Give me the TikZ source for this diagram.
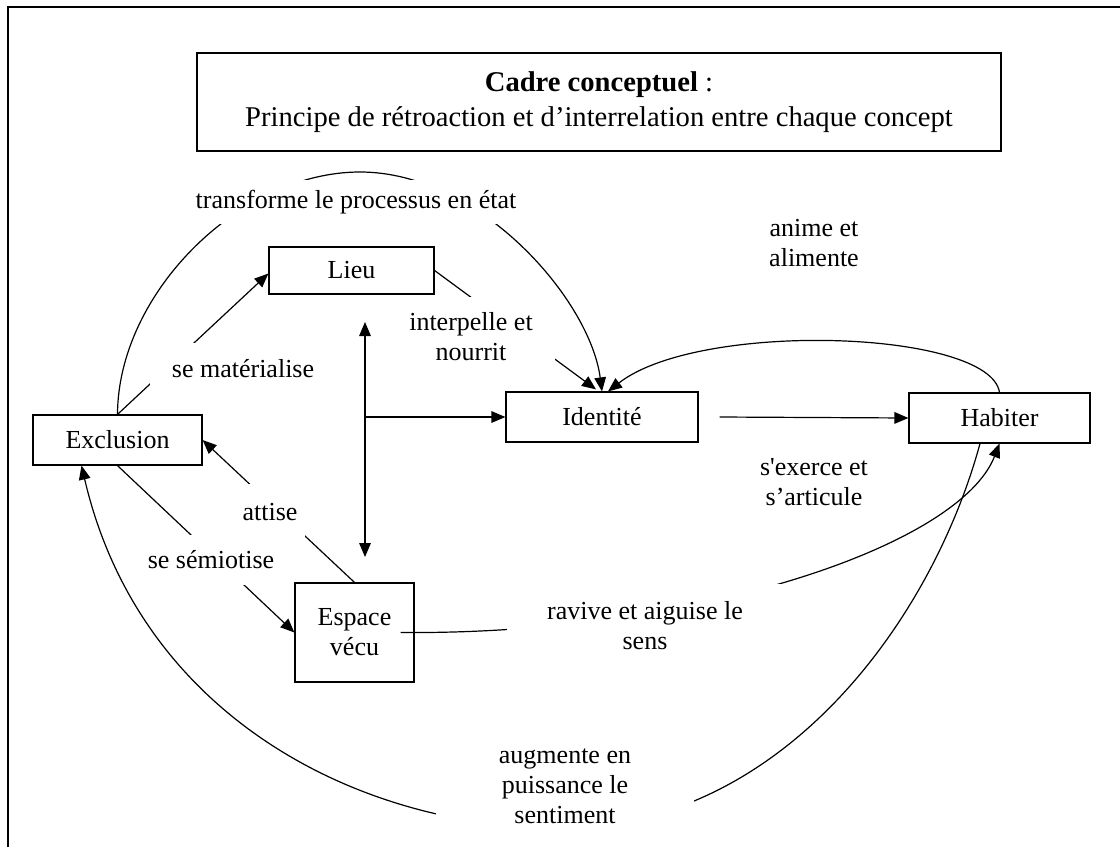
\documentclass[tikz,border=0pt]{standalone}
\usepackage{fontspec}
\setmainfont{Liberation Serif}
\newfontfamily\straightfont{Liberation Serif}[Ligatures=TeXOff]
\usetikzlibrary{arrows.meta,calc}
\newcommand\myfs{\fontsize{13}{15}\selectfont}
\newcommand\myfst{\fontsize{14.3}{17.5}\selectfont}
\tikzset{
  x=0.5pt, y=-0.5pt,
  box/.style={draw, line width=0.6pt, inner sep=0pt, align=center, font=\myfs},
  lbl/.style={fill=white, inner sep=0pt, align=center, font=\myfs},
  txt/.style={inner sep=0pt, align=center, font=\myfs},
  conn/.style={line width=0.6pt},
  arr/.style={conn, -{Triangle[length=7pt,width=5.8pt]}},
  darr/.style={conn, {Triangle[length=7pt,width=5.8pt]}-{Triangle[length=7pt,width=5.8pt]}}
}
\begin{document}
\begin{tikzpicture}
\useasboundingbox (0,0) rectangle (1120,847);
% outer frame (cropped)
\draw[line width=0.9pt] (8,847) -- (8,7) -- (1120,7);
% title
\node[box, font=\myfst, minimum width=402pt, minimum height=49pt] (title) at (599,102)
  {\textbf{Cadre conceptuel} :\\Principe de rétroaction et d’interrelation entre chaque concept};
% concept boxes
\node[box, minimum width=82.5pt, minimum height=23.5pt] (lieu) at (351.5,270.5) {Lieu};
\node[box, minimum width=84.5pt, minimum height=25pt] (excl) at (117.5,440) {Exclusion};
\node[box, minimum width=96pt, minimum height=25pt] (ident) at (602,417) {Identité};
\node[box, minimum width=90.5pt, minimum height=25pt] (habit) at (999.5,418) {Habiter};
\node[box, minimum width=59.5pt, minimum height=49.5pt] (esp) at (354.5,632.5) {Espace\\vécu};
% auxiliary coordinates for the double arrow
\coordinate (vt) at (365,322);
\coordinate (vb) at (365,557);
% connectors
\draw[arr] (excl.north) .. controls (118,293) and (240,172) .. (360,172)
  .. controls (480,172) and (590,300) .. (ident.north);
\draw[arr] (habit.north) .. controls (990,330) and (700,320) .. ($(ident.north)+(6,0)$);
\draw[arr] (lieu.east) -- ($(ident.north)+(-6,-2)$);
\draw[arr] (excl.north) -- ($(lieu.west)+(0,3)$);
\draw[arr] (esp.north) -- (excl.east);
\draw[arr] (excl.south) -- (esp.west);
\draw[darr] (vt) -- (vb);
\draw[arr] (vt |- ident.west) -- (ident.west);
\draw[arr] ($(ident.east)+(21,0)$) -- (habit.west);
\draw[arr] ($(esp.east)+(-14,0)$) .. controls (700,635) and (960,545) .. (habit.south);
\draw[arr] ($(habit.south)+(-19.5,0)$) .. controls (931,623) and (780,828) .. (560,828)
  .. controls (360,828) and (140,717) .. ($(excl.south)+(-36,0)$);
% labels
\node[lbl, minimum width=190pt, minimum height=22pt] (ltrans) at (356,202) {transforme le processus en état};
\node[txt] (lanime) at (814,243) {anime et\\alimente};
\node[lbl, minimum width=84pt, minimum height=40pt] (linterp) at (471,337) {interpelle et\\nourrit};
\node[lbl, minimum width=93pt, minimum height=26pt] (lmater) at (243,369) {se matérialise};
\node[txt] (lexerce) at (814,482) {s{\straightfont '}exerce et\\s’articule};
\node[lbl, minimum width=35pt, minimum height=28pt] (lattise) at (270,512) {attise};
\node[lbl, minimum width=70pt, minimum height=25pt] (lsemio) at (211,560) {se sémiotise};
\node[lbl, minimum width=138pt, minimum height=42pt] (lravive) at (645,626) {ravive et aiguise le\\sens};
\node[lbl, minimum width=129pt, minimum height=48pt] (laugm) at (565,786) {augmente en\\puissance le\\sentiment};
\end{tikzpicture}
\end{document}
